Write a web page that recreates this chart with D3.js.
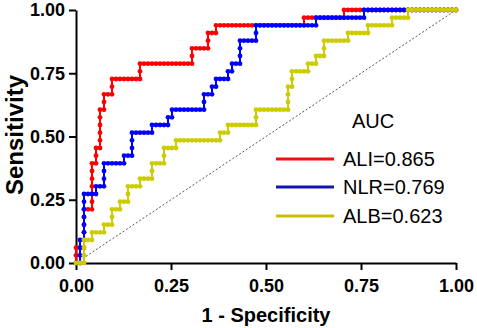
<!DOCTYPE html>
<html><head><meta charset="utf-8">
<script src="https://cdn.jsdelivr.net/npm/d3@7"></script>
<style>
html,body{margin:0;padding:0;background:#fff;}
svg{display:block;font-family:"Liberation Sans",Arial,sans-serif;}
</style></head>
<body><svg id="c" width="477" height="328"></svg>
<script>
// counts of false positives (out of nNeg) and true positives (out of nPos) at each cutoff
const nNeg = 95, nPos = 33;
const tickVals = [0, 0.25, 0.5, 0.75, 1];
const seriesNames = ["ALI=0.865", "NLR=0.769", "ALB=0.623"];
const seriesColors = ["#ff0000", "#0000ff", "#cccc00"];
const legendLineColors = ["#ee1111", "#1414b4", "#c8c000"];

const aliPoints = [[0,0],[0,1],[0,2],[1,2],[2,2],[2,3],[2,4],[2,5],[2,6],[2,7],[3,7],[4,7],[4,8],[4,9],[4,10],[4,11],[4,12],[4,13],[5,13],[5,14],[5,15],[6,15],[6,16],[6,17],[6,18],[6,19],[6,20],[7,20],[7,21],[7,22],[8,22],[9,22],[9,23],[9,24],[10,24],[11,24],[12,24],[13,24],[14,24],[15,24],[16,24],[16,25],[16,26],[17,26],[18,26],[19,26],[20,26],[21,26],[22,26],[23,26],[24,26],[25,26],[26,26],[27,26],[28,26],[29,26],[29,27],[29,28],[30,28],[31,28],[32,28],[33,28],[33,29],[33,30],[34,30],[35,30],[35,31],[36,31],[37,31],[38,31],[39,31],[40,31],[41,31],[42,31],[43,31],[44,31],[45,31],[46,31],[47,31],[48,31],[49,31],[50,31],[51,31],[52,31],[53,31],[54,31],[55,31],[56,31],[57,31],[57,32],[58,32],[59,32],[60,32],[61,32],[62,32],[63,32],[64,32],[65,32],[66,32],[67,32],[67,33],[68,33],[69,33],[70,33],[71,33],[72,33],[73,33],[74,33],[75,33],[76,33],[77,33],[78,33],[79,33],[80,33],[81,33],[82,33],[83,33],[84,33],[85,33],[86,33],[87,33],[88,33],[89,33],[90,33],[91,33],[92,33],[93,33],[94,33],[95,33]];

const nlrPoints = [[0,0],[1,0],[1,1],[1,2],[1,3],[2,3],[2,4],[2,5],[2,6],[2,7],[2,8],[2,9],[3,9],[4,9],[5,9],[5,10],[6,10],[7,10],[7,11],[7,12],[7,13],[8,13],[9,13],[10,13],[11,13],[12,13],[12,14],[13,14],[14,14],[14,15],[14,16],[14,17],[15,17],[16,17],[17,17],[18,17],[19,17],[19,18],[20,18],[21,18],[22,18],[23,18],[23,19],[24,19],[24,20],[25,20],[26,20],[27,20],[28,20],[29,20],[30,20],[31,20],[32,20],[32,21],[32,22],[33,22],[34,22],[34,23],[35,23],[35,24],[36,24],[37,24],[38,24],[38,25],[39,25],[39,26],[40,26],[41,26],[41,27],[41,28],[41,29],[42,29],[43,29],[44,29],[45,29],[45,30],[45,31],[46,31],[47,31],[48,31],[49,31],[50,31],[51,31],[52,31],[53,31],[54,31],[55,31],[56,31],[57,31],[58,31],[59,31],[60,31],[60,32],[61,32],[62,32],[63,32],[64,32],[65,32],[66,32],[67,32],[68,32],[69,32],[70,32],[71,32],[72,32],[72,33],[73,33],[74,33],[75,33],[76,33],[77,33],[78,33],[79,33],[80,33],[81,33],[82,33],[83,33],[84,33],[85,33],[86,33],[87,33],[88,33],[89,33],[90,33],[91,33],[92,33],[93,33],[94,33],[95,33]];

const albPoints = [[0,0],[1,0],[2,0],[2,1],[2,2],[2,3],[3,3],[4,3],[4,4],[5,4],[6,4],[7,4],[7,5],[8,5],[9,5],[9,6],[9,7],[10,7],[11,7],[11,8],[12,8],[13,8],[13,9],[13,10],[14,10],[15,10],[16,10],[16,11],[17,11],[18,11],[19,11],[19,12],[19,13],[20,13],[21,13],[22,13],[22,14],[22,15],[23,15],[24,15],[25,15],[25,16],[26,16],[27,16],[28,16],[29,16],[30,16],[31,16],[32,16],[33,16],[34,16],[35,16],[36,16],[36,17],[37,17],[38,17],[38,18],[39,18],[40,18],[41,18],[42,18],[43,18],[44,18],[45,18],[45,19],[45,20],[46,20],[47,20],[48,20],[49,20],[50,20],[51,20],[52,20],[53,20],[53,21],[53,22],[53,23],[54,23],[54,24],[54,25],[55,25],[56,25],[57,25],[58,25],[58,26],[59,26],[60,26],[60,27],[61,27],[62,27],[62,28],[62,29],[63,29],[64,29],[65,29],[66,29],[67,29],[68,29],[68,30],[69,30],[70,30],[71,30],[72,30],[73,30],[73,31],[74,31],[75,31],[76,31],[77,31],[78,31],[79,31],[79,32],[80,32],[81,32],[82,32],[83,32],[83,33],[84,33],[85,33],[86,33],[87,33],[88,33],[89,33],[90,33],[91,33],[92,33],[93,33],[94,33],[95,33]];

const svg = d3.select("#c");
const x = d3.scaleLinear().domain([0, 1]).range([76, 456]);
const y = d3.scaleLinear().domain([0, 1]).range([263, 10]);

// axes
const fmt = d3.format(".2f");
const gx = svg.append("g").attr("transform", "translate(0,263)")
  .call(d3.axisBottom(x).tickValues(tickVals).tickFormat(fmt).tickSize(7).tickSizeOuter(0).tickPadding(9));
const gy = svg.append("g").attr("transform", "translate(76,0)")
  .call(d3.axisLeft(y).tickValues(tickVals).tickFormat(fmt).tickSize(7).tickSizeOuter(0).tickPadding(4));
[gx, gy].forEach(g => {
  g.select(".domain").attr("stroke", "#000").attr("stroke-width", 2);
  g.selectAll(".tick line").attr("stroke", "#000").attr("stroke-width", 2);
  g.selectAll(".tick text").attr("fill", "#000").style("font-size", "18px").style("font-weight", "bold")
   .style("font-family", "'Liberation Sans',Arial,sans-serif");
});

// diagonal reference
svg.append("line").attr("x1", x(0)).attr("y1", y(0)).attr("x2", x(1)).attr("y2", y(1))
  .attr("stroke", "#555").attr("stroke-width", 1).attr("stroke-dasharray", "2,2");

// series
const allSeries = [aliPoints, nlrPoints, albPoints];
const line = d3.line().x(d => x(d[0] / nNeg)).y(d => y(d[1] / nPos));
allSeries.forEach((pts, i) => {
  const g = svg.append("g");
  g.append("path").attr("d", line(pts)).attr("fill", "none")
    .attr("stroke", seriesColors[i]).attr("stroke-width", 2);
  g.selectAll("circle").data(pts).join("circle")
    .attr("cx", d => x(d[0] / nNeg)).attr("cy", d => y(d[1] / nPos))
    .attr("r", 2.4).attr("fill", seriesColors[i]);
});

// axis titles
svg.append("text").attr("x", 266).attr("y", 322).attr("text-anchor", "middle")
  .style("font-size", "20px").style("font-weight", "bold").text("1 - Specificity");
svg.append("text").attr("transform", "translate(23,135) rotate(-90)").attr("text-anchor", "middle")
  .style("font-size", "24px").style("font-weight", "bold").text("Sensitivity");

// legend
svg.append("text").attr("x", 352).attr("y", 128).style("font-size", "20px").text("AUC");
const legY = [159, 187, 216];
seriesNames.forEach((name, i) => {
  svg.append("line").attr("x1", 276).attr("x2", 334).attr("y1", legY[i]).attr("y2", legY[i])
    .attr("stroke", legendLineColors[i]).attr("stroke-width", 3);
  svg.append("text").attr("x", 343).attr("y", legY[i] + 7).style("font-size", "20px").text(name);
});
</script>
</body></html>
